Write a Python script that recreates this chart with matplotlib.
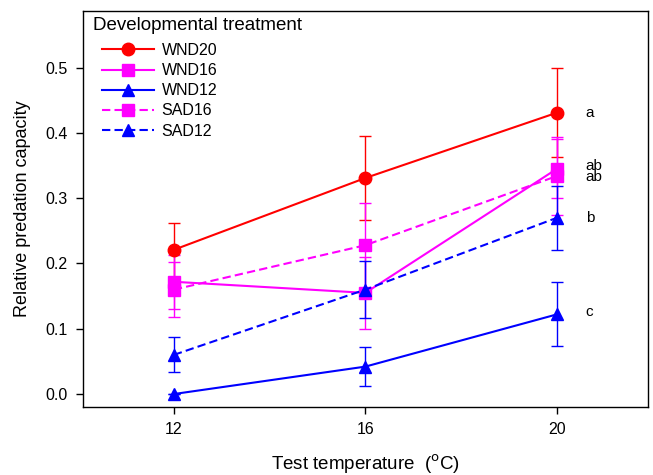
import matplotlib
matplotlib.use('Agg')
import matplotlib.pyplot as plt

plt.rcParams['font.family'] = ['Liberation Sans', 'DejaVu Sans']

temps = [12, 16, 20]

wnd20 = [0.221, 0.331, 0.431]
wnd20_err = [0.041, 0.064, 0.068]

wnd16 = [0.172, 0.155, 0.345]
wnd16_err = [0.041, 0.055, 0.045]

wnd12 = [0.0, 0.042, 0.122]
wnd12_err = [0.0, 0.030, 0.049]

sad16 = [0.160, 0.228, 0.334]
sad16_err = [0.042, 0.065, 0.060]

sad12 = [0.060, 0.160, 0.270]
sad12_err = [0.027, 0.044, 0.049]

letters = ['a', 'ab', 'ab', 'b', 'c']
letter_y = [0.431, 0.350, 0.333, 0.270, 0.126]

fig = plt.figure(figsize=(6.53, 4.75), dpi=100)
ax = fig.add_axes([0.127, 0.143, 0.865, 0.834])

dash = (0, (4, 2))
series = [
    ('WND20', wnd20, wnd20_err, '#ff0000', 'o', '-', 9),
    ('WND16', wnd16, wnd16_err, '#ff00ff', 's', '-', 9),
    ('WND12', wnd12, wnd12_err, '#0000ff', '^', '-', 9),
    ('SAD16', sad16, sad16_err, '#ff00ff', 's', dash, 9),
    ('SAD12', sad12, sad12_err, '#0000ff', '^', dash, 9),
]

for name, vals, errs, col, mk, ls, ms in series:
    ax.errorbar(temps, vals, yerr=errs, color=col, ecolor=col, elinewidth=1,
                capsize=4, capthick=1, linestyle='none', zorder=2)
    ax.plot(temps, vals, color=col, marker=mk, linestyle=ls, linewidth=1.5,
            markersize=ms, label=name, zorder=3)

for lab, yy in zip(letters, letter_y):
    ax.text(20.6, yy, lab, fontsize=11, va='center', ha='left')

ax.set_xlim(10.1, 21.9)
ax.set_ylim(-0.02, 0.587)
ax.set_xticks(temps)
ax.set_yticks([0.0, 0.1, 0.2, 0.3, 0.4, 0.5])
ax.set_yticklabels(['0.0', '0.1', '0.2', '0.3', '0.4', '0.5'])
ax.tick_params(direction='out', length=5, width=1, labelsize=11.5, pad=6)

for sp in ax.spines.values():
    sp.set_linewidth(1)

ax.set_xlabel(r'Test temperature  ($^{\rm o}$C)', fontsize=13.5, labelpad=11)
ax.set_ylabel('Relative predation capacity', fontsize=13, labelpad=10)

# legend title drawn separately so the entries sit indented under it
ax.text(0.018, 0.962, 'Developmental treatment', transform=ax.transAxes,
        fontsize=13.5, va='center', ha='left')
ax.legend(loc='upper left', bbox_to_anchor=(0.022, 0.935),
          frameon=False, fontsize=11.5, handlelength=3.3,
          labelspacing=0.32, borderaxespad=0.0, handletextpad=0.45)

fig.savefig('out.png', dpi=100)
